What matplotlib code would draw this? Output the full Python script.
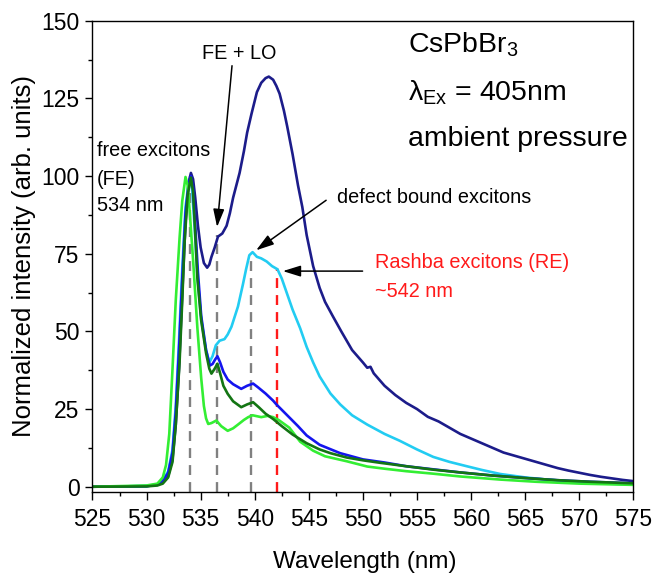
import matplotlib
matplotlib.use("Agg")
import matplotlib.pyplot as plt
from matplotlib.ticker import MultipleLocator

plt.rcParams["font.family"] = ["Liberation Sans", "DejaVu Sans"]
plt.rcParams["mathtext.fontset"] = "custom"
plt.rcParams["mathtext.rm"] = "Liberation Sans"
plt.rcParams["mathtext.it"] = "Liberation Sans:italic"

# spectra (wavelength in nm, normalized intensity)
navy_x = [525, 530, 531, 531.5, 532, 532.4, 532.7, 533.0, 533.3, 533.6, 533.9, 534.1, 534.3, 534.5,
          534.75, 535.0, 535.3, 535.6, 535.8, 536.0, 536.3, 536.6, 537.0, 537.4, 537.7, 538.0, 538.3,
          538.6, 539.0, 539.3, 539.7, 540.2, 540.6, 541.0, 541.3, 541.7, 542.0, 542.3, 542.7, 543.0,
          543.5, 544.0, 544.4, 544.8, 545.1, 545.4, 546.0, 546.5, 547.2, 548, 549, 550, 550.4, 550.7,
          551, 552, 553, 554, 555, 556, 557, 558, 559, 560, 561, 562, 563, 564, 565, 566, 567, 568,
          569, 570, 571, 572, 573, 574, 575]
navy_y = [0, 0.2, 0.6, 1.5, 3.5, 9, 20, 38, 62, 85, 98, 101, 99, 93,
          84, 77, 72, 70.5, 71.5, 74, 77, 80.5, 81.5, 84, 88, 93, 97,
          101, 108, 114, 120, 127, 130, 131.5, 132, 131, 129, 126.5, 121, 116,
          107, 97, 90, 81, 76, 71, 64, 59.5, 55, 50, 44, 40, 38.3, 38.6,
          36.5, 32.5, 29.5, 27, 25, 22.5, 21, 19, 17, 15.5, 14, 12.5, 11, 10, 9, 8, 7, 6,
          5.2, 4.5, 3.8, 3.2, 2.7, 2.2, 1.8]

cyan_x = [525, 530, 531, 531.5, 532, 532.4, 532.7, 533.0, 533.3, 533.6, 533.9, 534.0, 534.2, 534.45,
          534.7, 535.05, 535.5, 535.8, 536.1, 536.4, 536.75, 537.2, 537.5, 537.85, 538.45, 538.9,
          539.2, 539.5, 539.8, 540.2, 540.6, 541.1, 541.6, 542.1, 542.5, 543.0, 543.5, 544.2, 544.8,
          545.4, 546.0, 547, 547.9, 549, 550.4, 552, 553.4, 555, 556.5, 558, 559.6, 561, 562.7, 565,
          567, 570, 572, 575]
cyan_y = [0, 0.2, 0.8, 2, 5, 12, 26, 47, 70, 90, 98, 98.5, 96, 83,
          68, 54, 44, 40, 42, 45.5, 47, 47.5, 49, 51.5, 58, 65,
          70, 74.5, 75.5, 74, 73.5, 72.5, 71, 70, 67, 62, 57, 51, 45,
          40, 35.5, 30, 26.5, 23, 20, 17, 14.8, 12, 9.6, 8, 6.6, 5.4, 4.1, 3,
          2.3, 1.5, 1.1, 0.7]

blue_x = [525, 530, 531, 531.5, 532, 532.4, 532.7, 533.0, 533.3, 533.6, 533.9, 534.1, 534.3, 534.5,
          534.75, 535.05, 535.5, 535.85, 536.1, 536.35, 536.55, 536.8, 537.1, 537.5, 538.0, 538.75,
          539.3, 539.85, 540.3, 541.0, 541.7, 542.0, 543, 544, 544.8, 546, 547.9, 550, 552, 554,
          556.5, 559, 562, 565, 568, 571, 575]
blue_y = [0, 0.2, 0.7, 1.8, 4.5, 11, 24, 44, 67, 88, 98, 100, 96, 84,
          69, 55, 44, 39, 39.5, 41, 42, 40, 37, 34.5, 33, 31.5,
          32.5, 33.2, 32, 30, 27.7, 26.5, 23, 19.5, 16.5, 13.5, 10.8, 8.8, 7.8, 6.6,
          5.6, 4.6, 3.6, 2.8, 2.1, 1.6, 1.1]

dkgreen_x = [525, 530, 531, 531.5, 532, 532.4, 532.7, 533.05, 533.3, 533.5, 533.8, 534.1, 534.3,
             534.45, 534.7, 535.05, 535.5, 535.8, 536.0, 536.3, 536.55, 536.8, 537.1, 537.5, 538.0,
             538.75, 539.3, 539.85, 540.4, 541.0, 541.7, 542.5, 543.5, 544.8, 546, 547, 548.5, 550,
             551.6, 554, 556.5, 559, 562, 565, 568, 571, 575]
dkgreen_y = [0, 0.1, 0.4, 1, 3, 8, 20, 40, 60, 78, 94, 99.5, 95,
             85, 67, 53.5, 43, 38, 36.4, 38, 39.6, 36.5, 32.5, 29.9, 27.5,
             25.6, 26.5, 27.2, 25.5, 23.5, 21.8, 19.5, 16.8, 14, 12, 10.8, 9.4, 8.5,
             7.7, 6.6, 5.5, 4.6, 3.6, 2.8, 2.1, 1.6, 1.1]

green_x = [525, 530, 531, 531.5, 531.8, 532.1, 532.4, 532.7, 533.05, 533.3, 533.6, 533.8, 534.0,
           534.3, 534.7, 535.05, 535.3, 535.5, 535.7, 536.0, 536.45, 536.9, 537.5, 538.0, 538.45,
           539.0, 539.4, 539.8, 540.6, 541.2, 541.7, 542.2, 543.2, 544.2, 545.4, 546.5, 548.5,
           550.4, 552, 554, 556.5, 559, 562.7, 566, 570, 575]
green_y = [0, 0.4, 1, 3, 7, 17, 38, 60, 80, 92, 99.7, 97, 88,
           73, 51, 35, 26, 22, 20.2, 20.5, 21.3, 19.5, 18, 18.8, 20,
           21.5, 22.4, 23, 22.4, 22.8, 22.4, 21.5, 19, 14.5, 11.6, 9.8, 8.2,
           6.5, 5.8, 5, 4.2, 3.3, 2.3, 1.6, 1.0, 0.6]

# marker lines: FE, FE+LO, defect bound, Rashba
grey_pos = [534.0, 536.55, 539.7]
grey_top = [101, 81, 74]
red_pos = 542.07
red_top = 70.5

fig = plt.figure(figsize=(6.54, 5.73), dpi=100)
ax = fig.add_axes([0.1414, 0.1408, 0.827, 0.8231])

ybot = -1.8
for xp, yt in zip(grey_pos, grey_top):
    ax.plot([xp, xp], [ybot, yt], color="#808080", lw=1.7, dashes=(4.2, 3), zorder=1)
ax.plot([red_pos, red_pos], [ybot, red_top], color="#ff1a1a", lw=1.7, dashes=(4.2, 3), zorder=1)

lw = 1.9
ax.plot(navy_x, navy_y, color="#1c1c8a", lw=lw, zorder=2)
ax.plot(cyan_x, cyan_y, color="#22ccf2", lw=lw, zorder=2)
ax.plot(blue_x, blue_y, color="#1414ee", lw=lw, zorder=2)
ax.plot(green_x, green_y, color="#33ee33", lw=lw, zorder=2)
ax.plot(dkgreen_x, dkgreen_y, color="#137513", lw=lw, zorder=2)

ax.set_xlim(525, 575)
ax.set_ylim(ybot, 150)
ax.xaxis.set_major_locator(MultipleLocator(5))
ax.xaxis.set_minor_locator(MultipleLocator(2.5))
ax.yaxis.set_major_locator(MultipleLocator(25))
ax.yaxis.set_minor_locator(MultipleLocator(12.5))
ax.tick_params(which="both", direction="out", top=False, right=False, width=1.0)
ax.tick_params(which="major", length=5.4, labelsize=16.5)
ax.tick_params(axis="x", which="major", pad=6)
ax.tick_params(axis="y", which="major", pad=4)
ax.tick_params(which="minor", length=3)
for s in ax.spines.values():
    s.set_linewidth(1.0)

ax.set_xlabel("Wavelength (nm)", fontsize=17.5)
ax.set_ylabel("Normalized intensity (arb. units)", fontsize=18.5)
ax.xaxis.set_label_coords(0.504, -0.124)
ax.yaxis.set_label_coords(-0.1035, 0.501)

fs = 14.3
ax.text(525.44, 106.3, "free excitons", fontsize=fs, va="baseline")
ax.text(525.44, 97.0, "(FE)", fontsize=fs, va="baseline")
ax.text(525.44, 88.6, "534 nm", fontsize=fs, va="baseline")
ax.text(535.16, 137.8, "FE + LO", fontsize=fs, va="baseline")
ax.text(547.56, 91.2, "defect bound excitons", fontsize=fs, va="baseline")
ax.text(551.08, 70.3, "Rashba excitons (RE)", fontsize=fs, va="baseline", color="#ff1a1a")
ax.text(551.08, 61.0, "~542 nm", fontsize=fs, va="baseline", color="#ff1a1a")

big = 20.5
ax.text(554.14, 139.7, r"CsPbBr$_{3}$", fontsize=big, va="baseline")
ax.text(554.14, 124.3, r"λ$_{\mathrm{Ex}}$ = 405nm", fontsize=big, va="baseline")
ax.text(554.14, 109.8, "ambient pressure", fontsize=big, va="baseline")

arrow = dict(arrowstyle="-|>,head_length=0.9,head_width=0.28", color="black", lw=1.1,
             mutation_scale=12, shrinkA=0, shrinkB=0)
ax.annotate("", xy=(536.52, 83.6), xytext=(537.9, 135.5), arrowprops=arrow)
ax.annotate("", xy=(540.13, 76.1), xytext=(546.6, 92.2), arrowprops=arrow)
ax.annotate("", xy=(542.6, 69.4), xytext=(549.97, 69.4), arrowprops=arrow)

fig.savefig("out.png", dpi=100)
